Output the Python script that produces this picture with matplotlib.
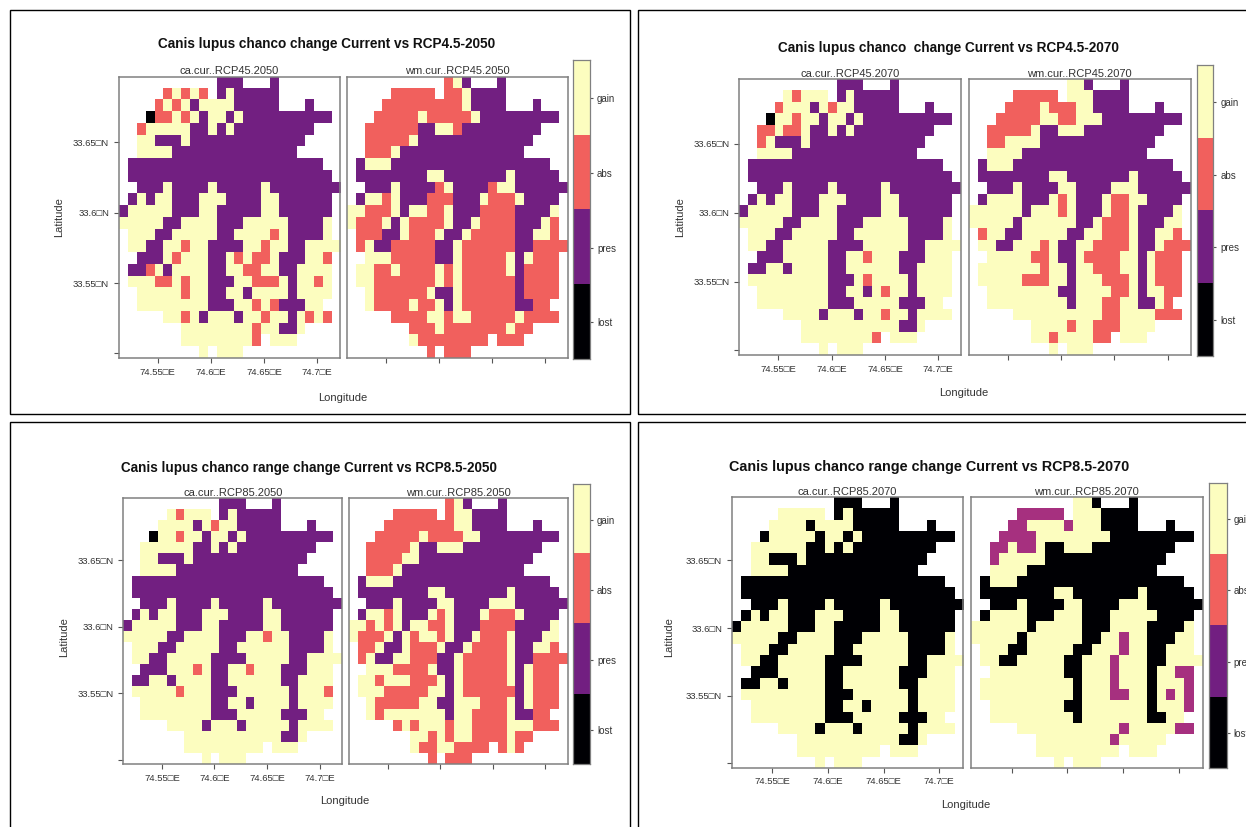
"""Canis lupus chanco range change maps, four scenarios, two models each."""
import matplotlib
matplotlib.use("Agg")
import matplotlib.pyplot as plt
import numpy as np
from matplotlib.colors import ListedColormap
from matplotlib.patches import Rectangle

plt.rcParams["font.family"] = ["Liberation Sans", "DejaVu Sans"]

# '.' no data, k lost, p pres, a abs, g gain, m mixed purple (last map only)
ca_45_2050 = [
    "...........ppp...p.......",
    ".....agaga.pgppppp.......",
    "....agagpggggppppp...p...",
    "...kaagagpggpgpppppppppp.",
    "..agggggppgpgppppppppp...",
    "..ggpppgppppppppppppp....",
    "..ggggpppppppppppppp.....",
    ".pppppppppppppppppppppp..",
    ".ppppppppppppppppppppppp.",
    "..pppgppppgpppppgpppppppp",
    ".pgpggpppgggppppggpppppp.",
    "pgggggpppggpppppggpppppp.",
    "gggggppggggpppgggggppppg.",
    ".gggppgggggppggggagppppg.",
    ".ggppggaggppppggaggppgggg",
    "..pppgagggppgagaagpppgga.",
    ".ppagpggggppggaaggppgggg.",
    ".gggaagaggpppggaaagpggag.",
    "..gggggaggppggpggggpgggg.",
    "..ggggggggpppggagapppgg..",
    ".....ggagpgggpggaggpgaga.",
    ".......ggggggggaggppg....",
    ".......gggggggga.ggg.....",
    ".........g.ggg...........",
]
wm_45_2050 = [
    "...........agp...p.......",
    ".....aaaaa.aagpppp.......",
    "....aaaaaaaaagpppp...p...",
    "...aaaaagaaaaagppppppppp.",
    "..aaaaaappggappppppppp...",
    "..aaaaagppppppppppppp....",
    "..aaagpppppppppppppp.....",
    ".pgggpppppppppppppppppp..",
    ".ppppppppggpppppppgppppp.",
    "..pppgppppagppppaggpppppp",
    ".pggagpppaaapppgaaagpppp.",
    "ggaaagpggaagpppaaaappppg.",
    "gaaagpgaaaagppgaaaapppga.",
    ".aaappgaaagppgaaaaappgga.",
    ".agppaaaaappgaaaaaappaaaa",
    "..gggaaaaappgaaaaagpgaaa.",
    ".ggaagaaaagagaaaaagpaaaa.",
    ".ggaaaaaaagagaaaaaapaaaa.",
    "..gaaaaaagppgaaaaaapaaaa.",
    "..gaaaagaagpgaaaaaappaa..",
    ".....aaaaggaggaaaaagaaaa.",
    ".......aaagaaaaaaagaa....",
    ".......gaaaaaaaa.aaa.....",
    ".........a.aaa...........",
]
ca_45_2070 = [
    "...........ppp...p.......",
    ".....gaggg.pgppppp.......",
    "....agggpgaggppppp...p...",
    "...kggaggpggpgpppppppppp.",
    "..aagaagppgpgppppppppp...",
    "..agpppgppppppppppppp....",
    "..ggggpppppppppppppp.....",
    ".pppppppppppppppppppppp..",
    ".ppppppppppppppppppppppp.",
    "..pppgppppgpppppgpppppppp",
    ".pgpggpppgggppppggpppppp.",
    "pgggggpppggpppppggpppppp.",
    "gggggppggggpppgggggppppg.",
    ".gggppgggggppggggggppppg.",
    ".ggppgggggppppgggggppgggg",
    "..pppgggggppggagggpppggg.",
    ".ppggpggggppggggggppgggg.",
    ".gggggggggpppgaggggpgggg.",
    "..ggggggggppggpgaggpgggg.",
    "..ggggggggpppgggggpppgg..",
    ".....ggggpgggpggaggpgggg.",
    ".......gggggggggggppg....",
    ".......gggggggga.ggg.....",
    ".........g.ggg...........",
]
wm_45_2070 = [
    "...........ggp...p.......",
    ".....aaaaa.gggpppp.......",
    "....aaaagaaaggpppp...p...",
    "...aaaaaggaagggppppppppp.",
    "..aaaaagppgggppppppppp...",
    "..aaggggppppppppppppp....",
    "..ggggpppppppppppppp.....",
    ".pgggpppppppppppppppppp..",
    ".ppppppppggpppppppgppppp.",
    "..pppgppppggppppgggpppppp",
    ".pggggpppgagpppgaaggpppp.",
    "ggggggpgggagpppgaagppppg.",
    "gggggpggggggppgaaagpppgg.",
    ".aggppgggggppggaaagppgga.",
    ".ggppgggagppggaaaagppgaaa",
    "..gggggaagppgaaaaggpgaaa.",
    ".gggggggaggpggaaaggpgaaa.",
    ".gggggaaaggpgggaaagpgaaa.",
    "..ggggggggppggggaagpggaa.",
    "..gggggggggpgggaaggppga..",
    ".....ggggggggggaaggggaaa.",
    ".......ggggaggaaagggg....",
    ".......ggaggggaa.ggg.....",
    ".........g.ggg...........",
]
ca_85_2050 = [
    "...........ppp...p.......",
    ".....gaggg.pgppppp.......",
    "....ggggpgaggppppp...p...",
    "...kggaggpggpgpppppppppp.",
    "..ggggggppgpgppppppppp...",
    "..ggpppgppppppppppppp....",
    "..ggggpppppppppppppp.....",
    ".pppppppppppppppppppppp..",
    ".ppppppppppppppppppppppp.",
    "..pppgppppgpppppgpppppppp",
    ".pgpggpppgggppppggpppppp.",
    "pgggggpppggpppppggpppppp.",
    "gggggppggggpppggaggppppg.",
    ".gggppgggggppggggggppppg.",
    ".ggppgggggppppgggggppgggg",
    "..pppgggagppggagggpppggg.",
    ".ppggpggggppggggggppgggg.",
    ".gggggagggpppggggggpggga.",
    "..ggggggggppggpggggpgggg.",
    "..ggggggggpppgggggpppgg..",
    ".....ggggpgggpgggggpgggg.",
    ".......gggggggggggppg....",
    ".......ggggggggg.ggg.....",
    ".........g.ggg...........",
]
wm_85_2050 = [
    "...........agp...p.......",
    ".....aaaaa.aggpppp.......",
    "....aaaaaaaaggpppp...p...",
    "...aaaaagaaaaggppppppppp.",
    "..aaaaagppgggppppppppp...",
    "..aaaaggppppppppppppp....",
    "..aaagpppppppppppppp.....",
    ".pgggpppppppppppppppppp..",
    ".ppppppppggpppppppgppppp.",
    "..pppgppppggppppgggpppppp",
    ".pggagpppgagpppgaaagpppp.",
    "ggagagpggaagpppaaaappppg.",
    "gaaagpgaggagppgaaagpppgg.",
    ".aagppgaaagppgaaaagppgga.",
    ".agppggaaappgaaaaagppaaaa",
    "..gggaaaagppgaaaaagpgaaa.",
    ".ggagggaaagpgaaaaagpgaaa.",
    ".gggaaaaaggpgaaaaaapgaaa.",
    "..gaaaaaggppgggaaagpgaaa.",
    "..gagggggggpggaaaagppaa..",
    ".....agagggaggaaaagggaaa.",
    ".......ggagaggaaaagaa....",
    ".......gaaggaaaa.aga.....",
    ".........a.aaa...........",
]
ca_85_2070 = [
    "...........kkk...k.......",
    ".....ggggg.kgkkkkk.......",
    "....ggggkggggkkkkk...k...",
    "...kgggggkggkgkkkkkkkkkk.",
    "..ggggggkkgkgkkkkkkkkk...",
    "..ggkkkgkkkkkkkkkkkkk....",
    "..ggggkkkkkkkkkkkkkk.....",
    ".kkkkkkkkkkkkkkkkkkkkkk..",
    ".kkkkkkkkkkkkkkkkkkkkkkk.",
    "..kkkgkkkkgkkkkkgkkkkkkkk",
    ".kgkggkkkgggkkkkggkkkkkk.",
    "kgggggkkkggkkkkkggkkkkkk.",
    "gggggkkggggkkkgggggkkkkg.",
    ".gggkkgggggkkggggggkkkkg.",
    ".ggkkgggggkkkkgggggkkgggg",
    "..kkkgggggkkggggggkkkggg.",
    ".kkggkggggkkggggggkkgggg.",
    ".gggggggggkkkggggggkgggg.",
    "..ggggggggkkggkggggkgggg.",
    "..ggggggggkkkgggggkkkgg..",
    ".....ggggkgggkgggggkgggg.",
    ".......gggggggggggkkg....",
    ".......ggggggggg.ggg.....",
    ".........g.ggg...........",
]
wm_85_2070 = [
    "...........ggk...k.......",
    ".....mmmmm.gggkkkk.......",
    "....mmggggmgggkkkk...k...",
    "...mmmmggggggggkkkkkkkkk.",
    "..mmgmmgkkgggkkkkkkkkk...",
    "..mgggggkkkkkkkkkkkkk....",
    "..ggggkkkkkkkkkkkkkk.....",
    ".kgggkkkkkkkkkkkkkkkkkk..",
    ".kkkkkkkkggkkkkkkkgkkkkk.",
    "..kkkgkkkkggkkkkgggkkkkkk",
    ".kggggkkkgggkkkgggggkkkk.",
    "ggggggkgggggkkkggggkkkkg.",
    "gggggkggggggkkggmggkkkgg.",
    ".gggkkgggggkkgggmggkkggg.",
    ".ggkkgggggkkgggmgggkkgggg",
    "..ggggggggkkgggmgggkggmm.",
    ".ggggggggggkgggmgggkgggm.",
    ".ggggggggggkgggmmggkgmgm.",
    "..ggggggggkkgggggggkgggm.",
    "..gggggggggkgggggggkkgg..",
    ".....gggggggggggmgggggmm.",
    ".......ggggggggmggggg....",
    ".......ggggggggg.ggg.....",
    ".........g.ggg...........",
]

classes = ["lost", "pres", "abs", "gain"]
lon_ticks = [74.55, 74.60, 74.65, 74.70]
lon_labels = ["74.55\u25a1E", "74.6\u25a1E", "74.65\u25a1E", "74.7\u25a1E"]
lat_ticks = [33.50, 33.55, 33.60, 33.65]
lat_labels = ["", "33.55\u25a1N", "33.6\u25a1N", "33.65\u25a1N"]

CODES = {".": 0, "k": 1, "p": 2, "a": 3, "g": 4, "m": 5}
COLOURS = ["white", "#000004", "#721F81", "#F1605D", "#FCFDBF", "#A6307F"]
CMAP = ListedColormap(COLOURS)
CELL = 1 / 120  # 30 arc seconds
EXTENT = (74.5133, 74.5133 + 25 * CELL, 33.6967 - 24 * CELL, 33.6967)
GREY = "#808080"
TEXT = "#333333"

W, H = 1246, 827
fig = plt.figure(figsize=(W / 100, H / 100), dpi=100, facecolor="white")


def px_axes(x0, y0, x1, y1):
    return fig.add_axes([x0 / W, 1 - y1 / H, (x1 - x0) / W, (y1 - y0) / H])


def px_text(x, y, s, **kw):
    kw.setdefault("ha", "center")
    kw.setdefault("va", "center")
    fig.text(x / W, 1 - y / H, s, **kw)


def draw_map(ax, rows, strip, left):
    grid = np.array([[CODES[c] for c in r] for r in rows])
    ax.imshow(grid, cmap=CMAP, vmin=-0.5, vmax=5.5, extent=EXTENT,
              aspect="auto", interpolation="nearest")
    ax.set_xticks(lon_ticks)
    ax.set_xticklabels(lon_labels if left else [""] * 4)
    if left:
        ax.set_yticks(lat_ticks)
        ax.set_yticklabels(lat_labels)
    else:
        ax.set_yticks([])
    ax.tick_params(length=3.6, width=0.8, color="#555555", labelsize=6.8,
                   labelcolor=TEXT, pad=3.4)
    ax.set_title(strip, fontsize=8, color=TEXT, pad=1.8)
    for spine in ax.spines.values():
        spine.set_color(GREY)
        spine.set_linewidth(1.1)


def draw_key(ax):
    ax.imshow(np.array([[4], [3], [2], [1]]), cmap=CMAP, vmin=-0.5, vmax=5.5,
              extent=(0, 1, 0, 4), aspect="auto", interpolation="nearest")
    ax.set_xticks([])
    ax.yaxis.tick_right()
    ax.set_yticks(np.arange(4) + 0.49)
    ax.set_yticklabels(classes)
    ax.tick_params(length=2.5, width=0.8, color="#555555", labelsize=7,
                   labelcolor=TEXT, pad=2.5)
    for spine in ax.spines.values():
        spine.set_color(GREY)
        spine.set_linewidth(0.9)


# box, title, both maps, key, axis labels in reference pixels
panels = [
    dict(box=(10, 10, 620, 404), title="Canis lupus chanco change Current vs RCP4.5-2050",
         tx=327, ty=44, tsize=9.85, ca=ca_45_2050, wm=wm_45_2050,
         ca_name="ca.cur..RCP45.2050", wm_name="wm.cur..RCP45.2050",
         left=(118.7, 340), right=(346.7, 567.7), y=(76.7, 358),
         key=(573, 60, 590, 359), lon=(343, 398), lat=(59, 217)),
    dict(box=(638, 10, 640, 404), title="Canis lupus chanco  change Current vs RCP4.5-2070",
         tx=948, ty=48, tsize=9.85, ca=ca_45_2070, wm=wm_45_2070,
         ca_name="ca.cur..RCP45.2070", wm_name="wm.cur..RCP45.2070",
         left=(739.3, 961.3), right=(968.7, 1190.7), y=(79.3, 355),
         key=(1196.7, 65, 1213.3, 355.7), lon=(964, 393), lat=(680, 217)),
    dict(box=(10, 422, 620, 420), title="Canis lupus chanco range change Current vs RCP8.5-2050",
         tx=309, ty=468, tsize=9.75, ca=ca_85_2050, wm=wm_85_2050,
         ca_name="ca.cur..RCP85.2050", wm_name="wm.cur..RCP85.2050",
         left=(123.3, 342.3), right=(349, 567.7), y=(498.3, 764.3),
         key=(573.3, 484, 590, 764.3), lon=(345, 801), lat=(64, 637)),
    dict(box=(638, 422, 640, 420), title="Canis lupus chanco range change Current vs RCP8.5-2070",
         tx=929, ty=467, tsize=10.4, ca=ca_85_2070, wm=wm_85_2070,
         ca_name="ca.cur..RCP85.2070", wm_name="wm.cur..RCP85.2070",
         left=(731.7, 963.3), right=(971, 1202.7), y=(497.3, 767.7),
         key=(1209.3, 483, 1226.7, 767.7), lon=(966, 805), lat=(669, 637)),
]

for p in panels:
    bx, by, bw, bh = p["box"]
    fig.add_artist(Rectangle((bx / W, 1 - (by + bh) / H), bw / W, bh / H, fill=False,
                             edgecolor="black", linewidth=1.0,
                             transform=fig.transFigure))
    px_text(p["tx"], p["ty"], p["title"], fontsize=p["tsize"], fontweight="bold", color="#111111")
    y0, y1 = p["y"]
    draw_map(px_axes(p["left"][0], y0, p["left"][1], y1), p["ca"], p["ca_name"], True)
    draw_map(px_axes(p["right"][0], y0, p["right"][1], y1), p["wm"], p["wm_name"], False)
    draw_key(px_axes(*p["key"]))
    px_text(*p["lon"], "Longitude", fontsize=8, color=TEXT)
    px_text(*p["lat"], "Latitude", fontsize=8, color=TEXT, rotation=90)

fig.savefig("out.png", dpi=100)
